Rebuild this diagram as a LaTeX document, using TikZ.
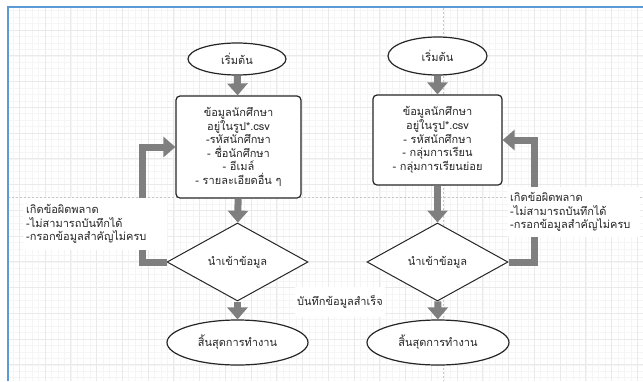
\documentclass[tikz,border=0pt]{standalone}
\usepackage{fontspec}
\newfontfamily\thaifont[Script=Thai]{Loma}
\usetikzlibrary{shapes.geometric,arrows.meta}
\definecolor{flowgray}{HTML}{7F7F7F}
\definecolor{bordblue}{HTML}{5B9BD5}
\definecolor{gridminor}{HTML}{F5F5F5}
\definecolor{gridmajor}{HTML}{EAEAEA}
\definecolor{txt}{HTML}{262626}
\begin{document}
\begin{tikzpicture}[x=1pt,y=-1pt,
  every node/.style={font=\thaifont\fontsize{11}{13.6}\selectfont, text=txt},
  startend/.style={ellipse, draw=black!85, line width=1.2pt, fill=white, inner sep=0pt},
  procbox/.style={rectangle, rounded corners=4pt, draw=black!85, line width=1.2pt, fill=white, align=center, inner sep=0pt},
  decision/.style={diamond, draw=black!85, line width=1pt, fill=white, inner sep=0pt, minimum width=141pt, minimum height=78pt},
  flow/.style={draw=flowgray, line width=7pt, -{Triangle[width=20pt,length=12pt]}, color=flowgray},
  loopflow/.style={flow, line join=miter},
  lbl/.style={fill=white, inner sep=0pt, align=left},
  pagebreak/.style={draw=black!22, line width=0.5pt, dash pattern=on 2pt off 2pt}]
\useasboundingbox (0,0) rectangle (643,381);
\fill[white] (0,0) rectangle (643,381);
% grid
\begin{scope}
\clip (8,8) rectangle (643,381);
\foreach \i in {0,...,100} {
  \draw[gridminor, line width=0.5pt] ({6.42+6.4375*\i},8) -- ({6.42+6.4375*\i},381);
}
\foreach \i in {0,...,60} {
  \draw[gridminor, line width=0.5pt] (8,{4.25+6.4375*\i}) -- (643,{4.25+6.4375*\i});
}
\foreach \i in {0,...,25} {
  \draw[gridmajor, line width=0.7pt] ({19.3+25.75*\i},8) -- ({19.3+25.75*\i},381);
}
\foreach \i in {0,...,15} {
  \draw[gridmajor, line width=0.7pt] (8,{4.25+25.75*\i}) -- (643,{4.25+25.75*\i});
}
\draw[pagebreak] (8,197) -- (643,197);
\draw[pagebreak] (443,8) -- (443,381);
\end{scope}
% border
\draw[bordblue, line width=2pt] (7.5,381) -- (7.5,7) -- (643,7);

% left chart
\node[startend, minimum width=98pt, minimum height=32pt] (s1) at (237,59) {เริ่มต้น};
\node[procbox, minimum width=125pt, minimum height=102pt] (b1) at (238.5,147)
  {ข้อมูลนักศึกษา\\อยู่ในรูป*.csv\\-รหัสนักศึกษา\\- ชื่อนักศึกษา\\- อีเมล์\\- รายละเอียดอื่น ๆ};
\node[decision] (d1) at (237.5,262) {นำเข้าข้อมูล};
\node[startend, minimum width=141pt, minimum height=45pt] (e1) at (237.5,342.5) {สิ้นสุดการทำงาน};

% right chart
\node[startend, minimum width=99pt, minimum height=38pt] (s2) at (437.5,56) {เริ่มต้น};
\node[procbox, minimum width=129pt, minimum height=90pt] (b2) at (437.5,140)
  {ข้อมูลนักศึกษา\\อยู่ในรูป*.csv\\- รหัสนักศึกษา\\- กลุ่มการเรียน\\- กลุ่มการเรียนย่อย};
\node[decision] (d2) at (437.5,262) {นำเข้าข้อมูล};
\node[startend, minimum width=142pt, minimum height=45pt] (e2) at (438,342.5) {สิ้นสุดการทำงาน};

% connectors
\draw[flow] (s1) -- (b1);
\draw[flow] (b1) -- (d1);
\draw[flow] (d1) -- (e1);
\draw[loopflow] (d1.west) -- ++(-24,0) |- (b1.west);
\draw[flow] (s2) -- (b2);
\draw[flow] (b2) -- (d2);
\draw[flow] (d2) -- (e2);
\draw[loopflow] (d2.east) -- ++(26,0) |- (b2.east);

% labels
\node[lbl, anchor=north west, text width=138pt, minimum height=52pt, inner xsep=3pt] (l1) at (23,198)
  {เกิดข้อผิดพลาด\\-ไม่สามารถบันทึกได้\\-กรอกข้อมูลสำคัญไม่ครบ};
\node[lbl, anchor=north west, text width=128pt, minimum height=50pt, inner xsep=2pt] (l2) at (508,187)
  {เกิดข้อผิดพลาด\\-ไม่สามารถบันทึกได้\\-กรอกข้อมูลสำคัญไม่ครบ};
\node[lbl, minimum width=90pt, minimum height=30pt, align=center] (l3) at (340,302) {บันทึกข้อมูลสำเร็จ};
\end{tikzpicture}
\end{document}
